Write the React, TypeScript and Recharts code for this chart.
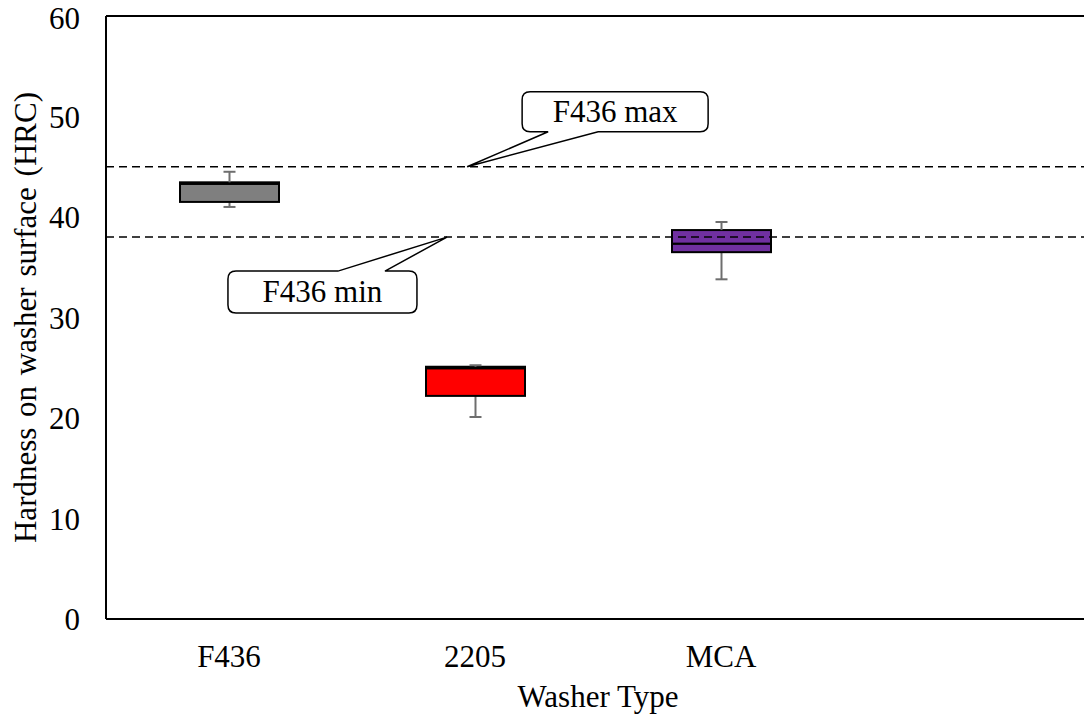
import React from 'react';
import { ComposedChart, Bar, XAxis, YAxis, ReferenceLine } from 'recharts';

const categories = ['F436', '2205', 'MCA', ''];
const minValues = [41.0, 20.1, 33.8];
const q1Values = [41.5, 22.2, 36.5];
const medianValues = [43.3, 24.95, 37.35];
const q3Values = [43.45, 25.1, 38.7];
const maxValues = [44.5, 25.25, 39.5];
const boxColors = ['#7F7F7F', '#FF0000', '#7030A0'];
const yTicks = [0, 10, 20, 30, 40, 50, 60];
const specMax = 45;
const specMin = 38;

const FONT = 'Liberation Serif';
const FS = 31;

// stacked segments: invisible base, lower whisker, two box halves, upper whisker
const data = categories.map((name, i) => {
  if (minValues[i] === undefined) return { name };
  return {
    name,
    base: minValues[i],
    lowWhisker: q1Values[i] - minValues[i],
    lowBox: medianValues[i] - q1Values[i],
    highBox: q3Values[i] - medianValues[i],
    highWhisker: maxValues[i] - q3Values[i],
  };
});

const ok = (...v: any[]) => v.every((n) => Number.isFinite(n));

const whisker = (capAt: 'top' | 'bottom') => (props: any) => {
  const { x, y, width, height } = props;
  if (!ok(x, y, width, height)) return <g />;
  const cx = x + width / 2;
  const capY = capAt === 'top' ? y : y + height;
  return (
    <g stroke="#6E6E6E" strokeWidth={2}>
      <line x1={cx} x2={cx} y1={y} y2={y + height} />
      <line x1={cx - 6} x2={cx + 6} y1={capY} y2={capY} />
    </g>
  );
};

const box = (props: any) => {
  const { x, y, width, height, index } = props;
  if (!ok(x, y, width, height)) return <g />;
  return (
    <rect x={x} y={y} width={width} height={height}
      fill={boxColors[index]} stroke="#000" strokeWidth={2} />
  );
};

// callout bubble pointing at a reference line
const Callout = (props: any) => {
  const { viewBox, text, tipFrac, kind } = props;
  if (!viewBox) return null;
  const tx = viewBox.x + viewBox.width * tipFrac;
  const ty = viewBox.y;
  const r = 8;
  let x1, x2, y1, y2, d;
  if (kind === 'max') {
    x1 = tx + 55; x2 = tx + 241; y1 = ty - 75; y2 = ty - 35;
    const xa = tx + 81, xb = tx + 131;
    d = `M${x1 + r},${y1} H${x2 - r} Q${x2},${y1} ${x2},${y1 + r} V${y2 - r} Q${x2},${y2} ${x2 - r},${y2}
      H${xb} L${tx},${ty} L${xa},${y2} H${x1 + r} Q${x1},${y2} ${x1},${y2 - r} V${y1 + r} Q${x1},${y1} ${x1 + r},${y1} Z`;
  } else {
    x1 = tx - 219; x2 = tx - 30; y1 = ty + 34; y2 = ty + 76;
    const xa = tx - 109, xb = tx - 62;
    d = `M${x1 + r},${y1} H${xa} L${tx},${ty} L${xb},${y1} H${x2 - r} Q${x2},${y1} ${x2},${y1 + r} V${y2 - r}
      Q${x2},${y2} ${x2 - r},${y2} H${x1 + r} Q${x1},${y2} ${x1},${y2 - r} V${y1 + r} Q${x1},${y1} ${x1 + r},${y1} Z`;
  }
  return (
    <g>
      <path d={d} fill="#fff" stroke="#000" strokeWidth={1.5} />
      <text x={(x1 + x2) / 2} y={(y1 + y2) / 2 + 10} textAnchor="middle"
        style={{ fontFamily: FONT, fontSize: FS }} fill="#000">{text}</text>
    </g>
  );
};

const XLabel = (props: any) => {
  const { viewBox } = props;
  return (
    <text x={viewBox.x + viewBox.width / 2} y={viewBox.y + 88} textAnchor="middle"
      style={{ fontFamily: FONT, fontSize: FS }} fill="#000">Washer Type</text>
  );
};

const YLabel = (props: any) => {
  const { viewBox } = props;
  const cy = viewBox.y + viewBox.height / 2;
  return (
    <text x={36} y={cy} textAnchor="middle" transform={`rotate(-90, 36, ${cy})`}
      style={{ fontFamily: FONT, fontSize: FS, wordSpacing: 3 }} fill="#000">Hardness on washer surface (HRC)</text>
  );
};

export default function App() {
  const tick = { fill: '#000', fontSize: FS, style: { fontFamily: FONT } };
  return (
    <div style={{ position: 'absolute', left: 0, top: 0, width: 1084, height: 724, overflow: 'hidden', background: '#fff', fontFamily: FONT }}>
      <ComposedChart width={1090} height={724} data={data}
        margin={{ top: 16, right: 0, bottom: 0, left: 0 }}>
        <XAxis dataKey="name" type="category" interval={0} height={105}
          tickLine={false} tickSize={0} tickMargin={26} tick={tick}
          axisLine={{ stroke: '#000', strokeWidth: 2 }} label={<XLabel />} />
        <YAxis type="number" domain={[0, 60]} ticks={yTicks} width={106}
          tickLine={false} tickSize={0} tickMargin={26} tick={tick}
          axisLine={{ stroke: '#000', strokeWidth: 2 }} label={<YLabel />} />
        <Bar dataKey="base" stackId="a" barSize={99} shape={() => <g />} isAnimationActive={false} />
        <Bar dataKey="lowWhisker" stackId="a" barSize={99} shape={whisker('bottom')} isAnimationActive={false} />
        <Bar dataKey="lowBox" stackId="a" barSize={99} shape={box} isAnimationActive={false} />
        <Bar dataKey="highBox" stackId="a" barSize={99} shape={box} isAnimationActive={false} />
        <Bar dataKey="highWhisker" stackId="a" barSize={99} shape={whisker('top')} isAnimationActive={false} />
        <ReferenceLine y={60} stroke="#000" strokeWidth={2} />
        <ReferenceLine y={specMax} stroke="#000" strokeWidth={1.5} strokeDasharray="8 5"
          label={<Callout text="F436 max" tipFrac={0.367} kind="max" />} />
        <ReferenceLine y={specMin} stroke="#000" strokeWidth={1.5} strokeDasharray="8 5"
          label={<Callout text="F436 min" tipFrac={0.3465} kind="min" />} />
      </ComposedChart>
    </div>
  );
}
